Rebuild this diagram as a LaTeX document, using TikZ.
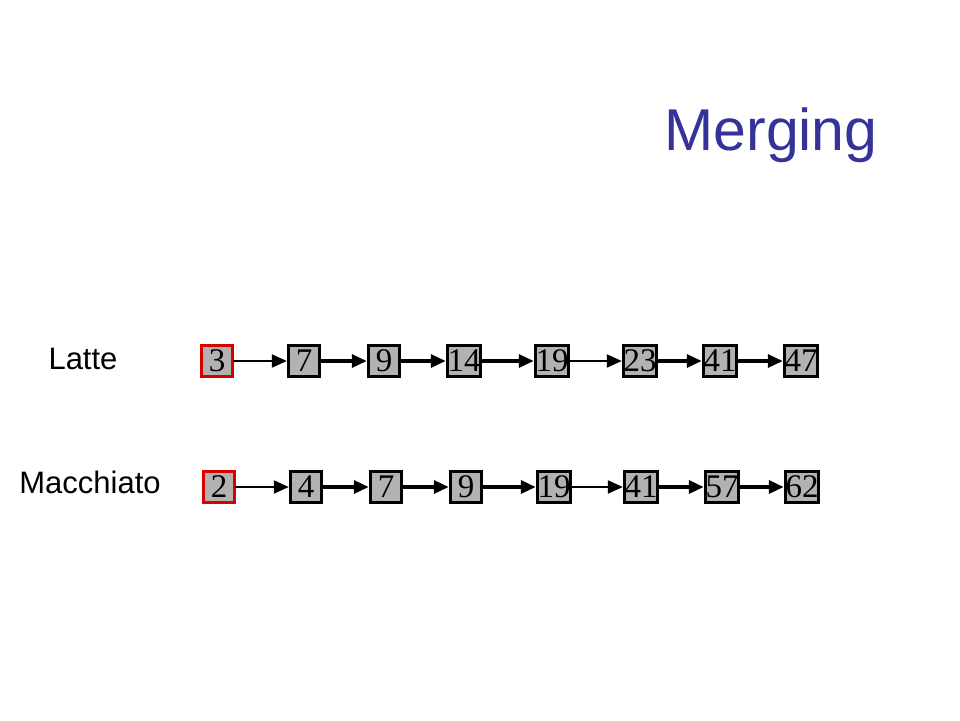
\documentclass[tikz,border=0pt]{standalone}
\usepackage{fontspec}
\setmainfont{Liberation Serif}
\setsansfont{Liberation Sans}
\usetikzlibrary{arrows.meta, positioning}
\definecolor{titleblue}{RGB}{51,51,153}
\definecolor{cellgray}{RGB}{178,178,178}

\tikzset{
    cell/.style={draw=black, fill=cellgray, line width=3.5pt, minimum size=31pt, inner sep=0pt,
        font=\fontsize{33}{33}\selectfont},
    first/.style={cell, draw=red!85!black},
    link/.style={-{Triangle[length=15pt, width=13pt]}, line width=3.5pt, shorten <=-1pt},
    thinlink/.style={link, line width=2.2pt},
    label/.style={font=\sffamily\fontsize{31}{31}\selectfont, anchor=base}
}

\begin{document}
\begin{tikzpicture}[x=1pt, y=-1pt]
    \useasboundingbox (0, 0) rectangle (960, 720);

    \node[font=\sffamily\fontsize{59}{59}\selectfont, text=titleblue, anchor=base] (title) at (771, 150) {Merging};

    \node[label] (latte) at (83, 369) {Latte};
    \node[label] (macc) at (90, 493) {Macchiato};

    % Latte list
    \node[first] (l1) at (217, 361) {3};
    \node[cell] (l2) at (304, 361) {7};
    \node[cell] (l3) at (384, 361) {9};
    \node[cell] (l4) at (464, 361) {14};
    \node[cell] (l5) at (552, 361) {19};
    \node[cell] (l6) at (640, 361) {23};
    \node[cell] (l7) at (720, 361) {41};
    \node[cell] (l8) at (801, 361) {47};

    % Macchiato list
    \node[first] (m1) at (219, 487) {2};
    \node[cell] (m2) at (306, 487) {4};
    \node[cell] (m3) at (386, 487) {7};
    \node[cell] (m4) at (466, 487) {9};
    \node[cell] (m5) at (554, 487) {19};
    \node[cell] (m6) at (641, 487) {41};
    \node[cell] (m7) at (722, 487) {57};
    \node[cell] (m8) at (802, 487) {62};

    \draw
    (l1) edge[thinlink] (l2)
    (l2) edge[link] (l3)
    (l3) edge[link] (l4)
    (l4) edge[link] (l5)
    (l5) edge[thinlink] (l6)
    (l6) edge[link] (l7)
    (l7) edge[link] (l8);

    \draw
    (m1) edge[thinlink] (m2)
    (m2) edge[link] (m3)
    (m3) edge[link] (m4)
    (m4) edge[link] (m5)
    (m5) edge[thinlink] (m6)
    (m6) edge[link] (m7)
    (m7) edge[link] (m8);
\end{tikzpicture}
\end{document}
